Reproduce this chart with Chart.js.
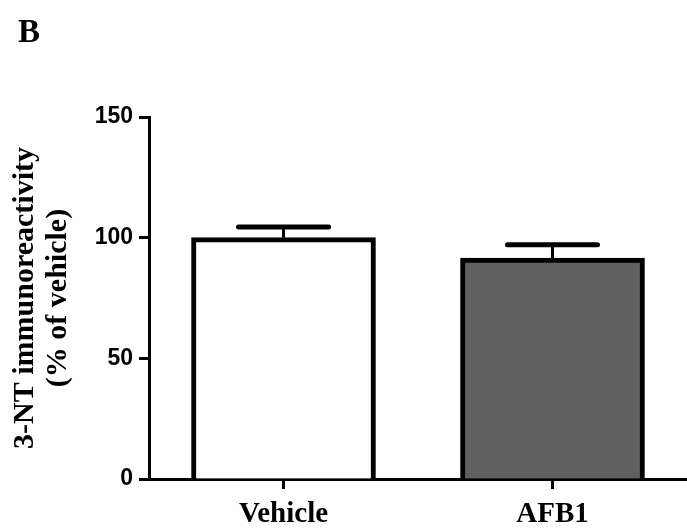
<!DOCTYPE html>
<html>
<head>
<meta charset="utf-8">
<script src="https://cdn.jsdelivr.net/npm/chart.js@4"></script>
<style>
  html, body { margin: 0; padding: 0; background: #fff; }
  #wrap { width: 687px; height: 530px; }
</style>
</head>
<body>
<div id="wrap"><canvas id="c" width="687" height="530"></canvas></div>
<script>
const categories = ['Vehicle', 'AFB1'];
const means = [100, 91.5];
const errors = [4.4, 5.6];
const barColors = ['#ffffff', '#606060'];
const yTicks = [0, 50, 100, 150];
const yTitle = ['3-NT immunoreactivity', '(% of vehicle)'];
const panelLabel = 'B';

const errorBarPlugin = {
  id: 'errorBars',
  afterDatasetsDraw(chart) {
    const ctx = chart.ctx;
    const xs = chart.scales.x, ys = chart.scales.y;
    ctx.save();
    ctx.strokeStyle = '#000';
    means.forEach((m, i) => {
      const x = xs.getPixelForValue(i);
      const yTop = ys.getPixelForValue(m + errors[i]);
      const yBase = ys.getPixelForValue(m);
      ctx.lineWidth = 3;
      ctx.lineCap = 'butt';
      ctx.beginPath();
      ctx.moveTo(x, yBase);
      ctx.lineTo(x, yTop);
      ctx.stroke();
      ctx.lineWidth = 5;
      ctx.lineCap = 'round';
      ctx.beginPath();
      ctx.moveTo(x - 45, yTop);
      ctx.lineTo(x + 45, yTop);
      ctx.stroke();
    });
    ctx.restore();
  }
};

const panelPlugin = {
  id: 'panelLabel',
  afterDraw(chart) {
    const ctx = chart.ctx;
    ctx.save();
    ctx.fillStyle = '#000';
    ctx.font = 'bold 33px "Liberation Serif"';
    ctx.textBaseline = 'alphabetic';
    ctx.textAlign = 'left';
    ctx.fillText(panelLabel, 18, 42);
    ctx.restore();
  }
};

new Chart(document.getElementById('c'), {
  type: 'bar',
  data: {
    labels: categories,
    datasets: [{
      data: means,
      backgroundColor: barColors,
      borderColor: '#000',
      borderWidth: 5,
      barThickness: 184,
      borderSkipped: 'start'
    }]
  },
  options: {
    responsive: false,
    animation: false,
    devicePixelRatio: 1,
    layout: { padding: { top: 117, left: 0, right: 0, bottom: 0 } },
    plugins: { legend: { display: false }, tooltip: { enabled: false } },
    scales: {
      x: {
        type: 'category',
        offset: true,
        afterFit(scale) { scale.height = 51; },
        grid: { display: true, drawOnChartArea: false, drawTicks: true, tickLength: 10, tickWidth: 3, tickColor: '#000', offset: false },
        border: { display: true, width: 3, color: '#000' },
        ticks: { color: '#000', padding: 8, font: { family: '"Liberation Serif"', size: 29, weight: 'bold' } }
      },
      y: {
        min: 0,
        max: 150,
        afterBuildTicks(scale) { scale.ticks = yTicks.map(v => ({ value: v })); },
        afterFit(scale) { scale.width = 149; },
        grid: { display: true, drawOnChartArea: false, drawTicks: true, tickLength: 10, tickWidth: 3, tickColor: '#000' },
        border: { display: true, width: 3, color: '#000' },
        ticks: { color: '#000', padding: 6, font: { family: 'Arial, "Liberation Sans", sans-serif', size: 23, weight: 'bold' } },
        title: {
          display: true,
          text: yTitle,
          color: '#000',
          padding: { top: 9, bottom: 0 },
          font: { family: '"Liberation Serif"', size: 30, weight: 'bold', lineHeight: 1.1 }
        }
      }
    }
  },
  plugins: [errorBarPlugin, panelPlugin]
});
</script>
</body>
</html>
